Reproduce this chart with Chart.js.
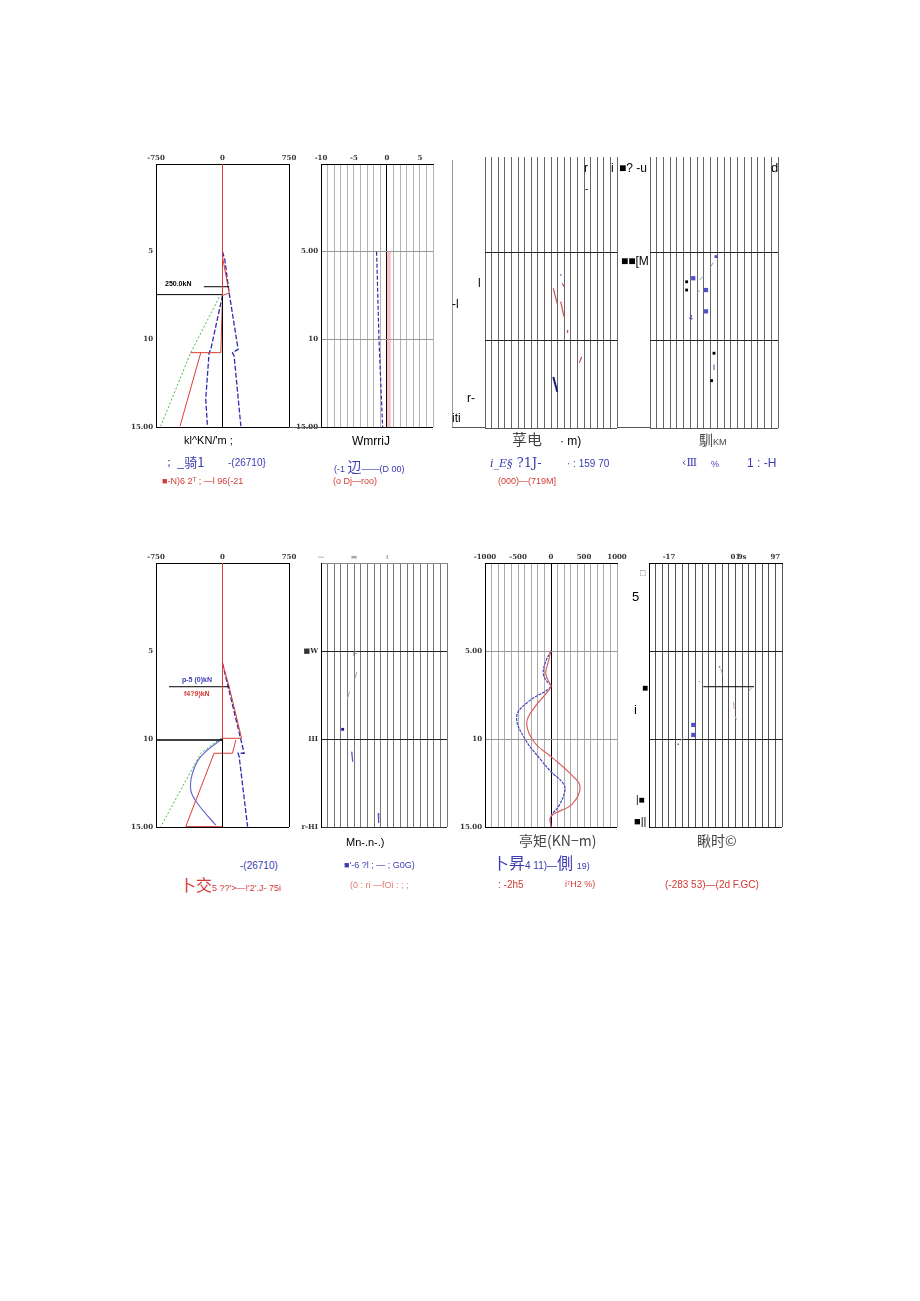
<!DOCTYPE html>
<html>
<head>
<meta charset="utf-8">
<script src="https://cdn.jsdelivr.net/npm/chart.js@4.4.0/dist/chart.umd.min.js"></script>
<style>
body { margin: 0; background: #fff; width: 920px; height: 1301px; position: relative; overflow: hidden; font-family: Arial, "Liberation Sans", sans-serif; }
canvas { position: absolute; }
.t { position: absolute; white-space: nowrap; line-height: 1; }
.cjk { font-family: "Noto Sans CJK SC", sans-serif; }
.blue { color: #3b3bb3; }
.red { color: #d23a34; }
.ln { position: absolute; background: #555; }
</style>
</head>
<body>

<canvas id="p1"></canvas>
<canvas id="p2"></canvas>
<canvas id="p3"></canvas>
<canvas id="p4"></canvas>
<canvas id="p5"></canvas>
<canvas id="p6"></canvas>
<canvas id="p7"></canvas>
<canvas id="p8"></canvas>

<!-- frame bits between panels -->
<div class="ln" style="left:289px;top:427px;width:32px;height:1px;"></div>
<div class="ln" style="left:452px;top:160px;width:1px;height:268px;background:#999;"></div>
<div class="ln" style="left:452px;top:427px;width:33px;height:1px;"></div>
<div class="ln" style="left:617px;top:427px;width:33px;height:1px;"></div>

<!-- labels inside panels -->
<div class="t" style="left:165px;top:280px;font-size:7px;font-weight:bold;">250.0kN</div>
<div class="t blue" style="left:182px;top:676px;font-size:7px;font-weight:bold;">p-5 (0)kN</div>
<div class="t red" style="left:184px;top:690px;font-size:7px;font-weight:bold;">f4?9)kN</div>

<div class="t" style="left:584px;top:162px;font-size:12px;">r</div>
<div class="t" style="left:585px;top:184px;font-size:10px;">-</div>
<div class="t" style="left:611px;top:162px;font-size:12px;">i</div>
<div class="t" style="left:619px;top:162px;font-size:12px;">■? -u</div>
<div class="t" style="left:771px;top:161px;font-size:13px;">d</div>
<div class="t" style="left:621px;top:255px;font-size:12px;">■■[M</div>
<div class="t" style="left:478px;top:277px;font-size:12px;">l</div>
<div class="t" style="left:452px;top:298px;font-size:12px;">-l</div>
<div class="t" style="left:467px;top:392px;font-size:12px;">r-</div>
<div class="t" style="left:452px;top:412px;font-size:12px;">iti</div>
<div class="t blue" style="left:689px;top:314px;font-size:7px;">4</div>

<div class="t" style="left:640px;top:569px;font-size:9px;color:#777;">□</div>
<div class="t" style="left:632px;top:590px;font-size:13px;">5</div>
<div class="t" style="left:642px;top:683px;font-size:10px;">■</div>
<div class="t" style="left:634px;top:703px;font-size:13px;">i</div>
<div class="t" style="left:636px;top:795px;font-size:10px;">|■</div>
<div class="t" style="left:634px;top:816px;font-size:11px;">■||</div>
<div class="t" style="left:353px;top:650px;font-size:7px;color:#666;">F</div>

<!-- captions, top row -->
<div class="t" style="left:184px;top:435px;font-size:11px;">kl^KN/'m ;</div>
<div class="t" style="left:352px;top:435px;font-size:12px;">WmrriJ</div>
<div class="t cjk" style="left:512px;top:431px;font-size:15px;color:#444;">莩电</div>
<div class="t" style="left:560px;top:435px;font-size:12px;">· m)</div>
<div class="t cjk" style="left:699px;top:432px;font-size:14px;color:#444;">馴<span style="font-family:Arial;font-size:9px;">KM</span></div>

<div class="t blue" style="left:163px;top:456px;font-size:12px;">；</div>
<div class="t blue cjk" style="left:177px;top:455px;font-size:13px;">_骑1</div>
<div class="t blue" style="left:228px;top:458px;font-size:10px;">-(26710}</div>
<div class="t blue" style="left:334px;top:459px;font-size:9px;">(-1 <span class="cjk" style="font-size:14px;">辺</span>——(D 00)</div>
<div class="t blue" style="left:490px;top:456px;font-size:13px;font-family:'DejaVu Serif',serif;"><i style="font-size:11px;">i_E§</i> ?1J-</div>
<div class="t blue" style="left:567px;top:459px;font-size:10px;">· : 159 70</div>
<div class="t blue" style="left:682px;top:457px;font-size:11px;font-family:'DejaVu Serif',serif;">‹Ⅲ</div>
<div class="t blue" style="left:711px;top:460px;font-size:9px;">%</div>
<div class="t blue" style="left:747px;top:457px;font-size:12px;">1 : -H</div>

<div class="t red" style="left:162px;top:477px;font-size:9px;">■-N)6 2ᵀ ; —l 96(-21</div>
<div class="t red" style="left:333px;top:477px;font-size:9px;">(o Dj—roo)</div>
<div class="t red" style="left:498px;top:477px;font-size:9px;">(000)—(719M]</div>

<!-- captions, bottom row -->
<div class="t" style="left:346px;top:837px;font-size:11px;">Mn-.n-.)</div>
<div class="t cjk" style="left:519px;top:833px;font-size:14px;color:#444;">亭矩(KN−m)</div>
<div class="t cjk" style="left:697px;top:833px;font-size:14px;color:#444;">瞅时©</div>

<div class="t blue" style="left:240px;top:861px;font-size:10px;">-(26710)</div>
<div class="t blue" style="left:344px;top:861px;font-size:9px;">■'-6 ?l ; — ; G0G)</div>
<div class="t blue cjk" style="left:493px;top:854px;font-size:16px;">卜昇<span style="font-family:Arial;font-size:10px;">4 11)—</span>側 <span style="font-family:Arial;font-size:9px;">19)</span></div>

<div class="t red cjk" style="left:180px;top:876px;font-size:16px;">卜交<span style="font-family:Arial;font-size:9px;">5 ??'&gt;—!'2'.J- 75i</span></div>
<div class="t red" style="left:350px;top:881px;font-size:9px;color:#e07a74;">(0 : ri —fOi :  ;  ;</div>
<div class="t red" style="left:498px;top:880px;font-size:10px;">: -2h5</div>
<div class="t red" style="left:565px;top:880px;font-size:9px;">i⁷H2 %)</div>
<div class="t red" style="left:665px;top:880px;font-size:10px;">(-283 53)—(2d F.GC)</div>

<script>
// depth axis (m), shared by all panels
const depthTicks = [5, 10, 15];

// --- panel 1 : earth pressure, stage 1 (kN/m) ---
const p1RedTop = [[0, 0], [0, 7.5]];
const p1BlackBottom = [[0, 7.5], [0, 15]];
const p1Level = [[-750, 7.45], [0, 7.45]];
const p1LabelLine = [[-211, 7.0], [75, 7.0]];
const p1RedA = [[0, 5.3], [75, 7.35], [0, 7.5], [-19, 10.76], [-358, 10.76]];
const p1RedB = [[-245, 10.76], [-479, 14.95]];
const p1Green = [[-38, 7.6], [-358, 10.76], [-697, 14.95]];
const p1BlueL = [[0, 7.5], [-132, 10.57], [-151, 10.76], [-189, 13.4], [-170, 14.95]];
const p1BlueR = [[0, 5.0], [26, 5.45], [75, 7.35], [176, 10.57], [113, 10.76], [131, 10.95], [207, 14.95]];

// --- panel 2 : displacement (mm) ---
const p2Blue = [[-1.56, 5], [-1.2, 10], [-0.65, 15]];
const p2Band = [[0.3, 5], [0.3, 15]];

// --- panel 3 : moment, stage 1 (scattered fragments) ---
const p3RedMarks = [
    [[-1.65, 7.06], [-1.05, 7.95]],
    [[-0.53, 7.82], [-0.03, 8.67]],
    [[-0.29, 6.78], [-0.03, 6.97]],
    [[0.53, 9.43], [0.5, 9.6]],
    [[2.3, 11.3], [2.65, 10.95]]
];
const p3BlueMark = [[-1.65, 12.1], [-1.05, 12.94]];
const p3Dots = [[-0.53, 6.3]];

// --- panel 4 : shear, stage 1 ---
const p4BlueSq = [[-5.58, 6.49], [-3.69, 7.16], [-3.69, 8.37]];
const p4BlueSmall = [[-2.21, 5.26]];
const p4BlackSq = [[-6.56, 6.69], [-6.56, 7.16], [-2.5, 10.75], [-2.85, 12.31]];
const p4Marks = [
    [[-3.1, 5.9], [-2.6, 5.6]],
    [[-4.6, 6.6], [-4.2, 6.4]],
    [[-5.0, 7.3], [-4.6, 7.2]],
    [[-2.5, 11.4], [-2.5, 11.7]]
];

// --- panel 5 : earth pressure, stage 2 (kN/m) ---
const p5RedTop = [[0, 0], [0, 10]];
const p5BlackBottom = [[0, 10], [0, 15]];
const p5Level = [[-750, 10.06], [0, 10.06]];
const p5LabelLine = [[-603, 7.03], [75, 7.03]];
const p5RedA = [[0, 5.7], [75, 7.03], [215, 9.96], [0, 9.96]];
const p5RedB = [[150, 10.06], [113, 10.81], [-95, 10.81], [-415, 14.98], [0, 14.98]];
const p5BlueR = [[0, 5.7], [244, 10.81], [176, 10.81], [188, 11.0], [283, 14.98]];
const p5BlueCurve = [[0, 9.96], [-245, 11.0], [-339, 11.95], [-358, 12.9], [-283, 13.65], [-76, 14.9]];
const p5Green = [[-19, 9.96], [-245, 10.81], [-697, 14.98]];

// --- panel 6 : displacement, stage 2 ---
const p6BlueDot = [[-6.73, 9.45]];
const p6BlueMarks = [
    [[-5.37, 10.72], [-5.22, 11.29]],
    [[-1.36, 14.2], [-1.3, 14.77]]
];
const p6GreyMarks = [
    [[-4.9, 6.6], [-4.6, 6.2]],
    [[-6.0, 7.7], [-5.7, 7.3]]
];

// --- panel 7 : moment, stage 2 (kN·m) ---
const p7Blue = [[0, 5], [-80, 5.6], [-117, 6.27], [-60, 6.75], [0, 7.03], [-350, 7.9], [-520, 8.73],
    [-394, 10], [-150, 11.2], [0, 11.86], [180, 12.5], [212, 12.9], [120, 13.8], [0, 14.4], [0, 15]];
const p7Red = [[0, 5], [-40, 5.6], [-80, 6.25], [-40, 6.7], [0, 7.03], [-250, 8.2], [-368, 9.1],
    [-250, 10.2], [0, 11.0], [300, 12.0], [440, 12.7], [320, 13.7], [0, 14.4], [0, 15]];

// --- panel 8 : shear, stage 2 ---
const p8BlueSq = [[-5.34, 9.2], [-5.34, 9.77]];
const p8Strut = [[-3.83, 7.03], [3.79, 7.03]];
const p8Marks = [
    [[-4.5, 6.7], [-4.3, 6.8]],
    [[-1.2, 6.0], [-1.0, 6.3]],
    [[3.0, 7.3], [3.4, 7.1]],
    [[0.7, 7.9], [0.8, 8.3]],
    [[0.9, 8.7], [1.2, 8.9]],
    [[-7.3, 10.1], [-6.8, 9.9]]
];
const p8Dots = [[-1.4, 5.9], [-7.6, 10.3]];

// --- tick labels ---
const p1XLabels = { '-750': '-750', '0': '0', '750': '750' };
const p2XLabels = { '-10': '-10', '-5': '-5', '0': '0', '5': '5' };
const p6XLabels = { '-10': '—', '-5': '▬', '0': 'ı' };
const p7XLabels = { '-1000': '-1000', '-500': '-500', '0': '0', '500': '500', '1000': '1000' };
const p8XLabels = { '-9': '-17', '1': '01', '2': '9s', '7': '97' };
const depthLabels = { '5': '5', '10': '10', '15': '15.00' };
const depthLabels2 = { '5': '5.00', '10': '10', '15': '15.00' };
const p6YLabels = { '5': '■W', '10': 'III', '15': 'r-HI' };

const RED = '#dc3b35';
const BLUE = '#2c2cb0';
const GREEN = '#3dbb3d';

function pts(arr) {
    return arr.map(p => ({ x: p[0], y: p[1] }));
}

function line(arr, color, extra) {
    return Object.assign({
        data: pts(arr), showLine: true, borderColor: color, backgroundColor: color,
        borderWidth: 1, pointRadius: 0, fill: false, tension: 0
    }, extra || {});
}

function marks(arr, color, size) {
    return {
        data: pts(arr), showLine: false, pointStyle: 'rect', pointRadius: size,
        backgroundColor: color, borderColor: color, borderWidth: 0
    };
}

const tickFont = { family: 'DejaVu Serif', size: 7, weight: 'bold' };

function makePanel(id, box, xo, yo, datasets) {
    const padL = 44, padT = 16, padR = 12, padB = 8;
    const cv = document.getElementById(id);
    cv.width = box.w + padL + padR;
    cv.height = box.h + padT + padB;
    cv.style.left = (box.x - padL) + 'px';
    cv.style.top = (box.y - padT) + 'px';
    return new Chart(cv, {
        type: 'scatter',
        data: { datasets: datasets },
        options: {
            responsive: false,
            animation: false,
            devicePixelRatio: 1,
            layout: { padding: { left: 0, top: 0, right: padR, bottom: padB } },
            plugins: { legend: { display: false }, tooltip: { enabled: false } },
            scales: {
                x: {
                    type: 'linear', position: 'top', min: xo.min, max: xo.max,
                    afterFit: s => { s.height = padT; },
                    ticks: {
                        stepSize: xo.step, maxTicksLimit: 100, autoSkip: false, maxRotation: 0,
                        padding: 2, font: tickFont, color: xo.labelColor || '#333',
                        callback: v => (xo.labels && xo.labels[String(v)]) || ''
                    },
                    grid: { drawTicks: false, lineWidth: 1, color: c => xo.grid(c.tick.value) },
                    border: { display: xo.border !== false, color: xo.borderColor || '#000', width: 1 }
                },
                y: {
                    type: 'linear', reverse: true, min: yo.min, max: 15,
                    afterFit: s => { s.width = padL; },
                    afterBuildTicks: s => { s.ticks = depthTicks.map(v => ({ value: v })); },
                    ticks: {
                        padding: 3, font: tickFont, color: '#333', autoSkip: false,
                        callback: v => (yo.labels && yo.labels[String(v)]) || ''
                    },
                    grid: { drawTicks: false, lineWidth: 1, color: c => yo.grid(c.tick.value) },
                    border: { display: yo.border !== false, color: '#000', width: 1 }
                }
            }
        }
    });
}

const none = 'rgba(0,0,0,0)';

// panel 1
makePanel('p1', { x: 156, y: 164, w: 133, h: 263 },
    { min: -750, max: 750, step: 750, labels: p1XLabels, grid: v => (v === 0 ? none : '#000') },
    { min: 0, labels: depthLabels, grid: v => (v === 15 ? '#000' : none) },
    [
        line(p1RedTop, RED),
        line(p1BlackBottom, '#000'),
        line(p1Level, '#000'),
        line(p1LabelLine, '#000'),
        line(p1RedA, RED),
        line(p1RedB, RED),
        line(p1Green, GREEN, { borderDash: [2, 2] }),
        line(p1BlueL, BLUE, { borderDash: [5, 2], borderWidth: 1.3 }),
        line(p1BlueR, BLUE, { borderDash: [5, 2], borderWidth: 1.3 })
    ]);

// panel 2
makePanel('p2', { x: 321, y: 164, w: 112, h: 263 },
    { min: -10, max: 7, step: 1, labels: p2XLabels, grid: v => (v === 0 ? '#000' : '#b4b4b4') },
    { min: 0, labels: depthLabels2, grid: v => (v === 15 ? '#000' : '#999') },
    [
        line(p2Band, 'rgba(240,120,120,0.45)', { borderWidth: 4 }),
        line(p2Blue, BLUE, { borderDash: [4, 2], borderWidth: 1.2 })
    ]);

// panel 3
const p3Sets = p3RedMarks.map(s => line(s, '#c85050', { borderWidth: 1.2 }));
p3Sets.push(line(p3BlueMark, '#1a1a80', { borderWidth: 2 }));
p3Sets.push(marks(p3Dots, '#6060c0', 1));
makePanel('p3', { x: 485, y: 157, w: 132, h: 271 },
    { min: -12, max: 8, step: 1, border: false, grid: () => '#666' },
    { min: -0.4, border: false, grid: v => (v === 15 ? '#555' : '#222') },
    p3Sets);

// panel 4
const p4Sets = p4Marks.map(s => line(s, '#9a9ac8'));
p4Sets.push(marks(p4BlueSq, '#4f4fd0', 3));
p4Sets.push(marks(p4BlueSmall, '#4f4fd0', 2));
p4Sets.push(marks(p4BlackSq, '#000', 2));
makePanel('p4', { x: 650, y: 157, w: 128, h: 271 },
    { min: -12, max: 7, step: 1, border: false, grid: () => '#666' },
    { min: -0.4, border: false, grid: v => (v === 15 ? '#555' : '#222') },
    p4Sets);

// panel 5
makePanel('p5', { x: 156, y: 563, w: 133, h: 264 },
    { min: -750, max: 750, step: 750, labels: p1XLabels, grid: v => (v === 0 ? none : '#000') },
    { min: 0, labels: depthLabels, grid: v => (v === 15 ? '#000' : none) },
    [
        line(p5RedTop, RED),
        line(p5BlackBottom, '#000'),
        line(p5Level, '#000', { borderWidth: 1.5 }),
        line(p5LabelLine, '#000'),
        line(p5RedA, RED),
        line(p5RedB, RED),
        line(p5Green, GREEN, { borderDash: [2, 2] }),
        line(p5BlueR, BLUE, { borderDash: [5, 2], borderWidth: 1.3 }),
        line(p5BlueCurve, '#6a6ad0', { tension: 0.4, borderWidth: 1.2 })
    ]);

// panel 6
const p6Sets = p6BlueMarks.map(s => line(s, '#5050c0', { borderWidth: 1.2 }));
p6GreyMarks.forEach(s => p6Sets.push(line(s, '#aaa')));
p6Sets.push(marks(p6BlueDot, '#1a1a90', 2));
makePanel('p6', { x: 321, y: 563, w: 126, h: 264 },
    { min: -10, max: 9, step: 1, labels: p6XLabels, labelColor: '#aaa', borderColor: '#888', grid: () => '#777' },
    { min: 0, labels: p6YLabels, grid: v => (v === 15 ? '#333' : '#222') },
    p6Sets);

// panel 7
makePanel('p7', { x: 485, y: 563, w: 132, h: 264 },
    { min: -1000, max: 1000, step: 100, labels: p7XLabels, grid: v => (v === 0 ? '#000' : '#aaa') },
    { min: 0, labels: depthLabels2, grid: v => (v === 15 ? '#000' : '#999') },
    [
        line(p7Red, '#e06060', { tension: 0.4, borderWidth: 1.2 }),
        line(p7Blue, '#4848c8', { tension: 0.4, borderWidth: 1.2, borderDash: [3, 1] })
    ]);

// panel 8
const p8Sets = p8Marks.map(s => line(s, '#c8a0a0'));
p8Sets.push(line(p8Strut, '#000'));
p8Sets.push(marks(p8BlueSq, '#4f4fd0', 3));
p8Sets.push(marks(p8Dots, '#6060c0', 1));
makePanel('p8', { x: 649, y: 563, w: 133, h: 264 },
    { min: -12, max: 8, step: 1, labels: p8XLabels, grid: () => '#555' },
    { min: 0, grid: v => '#222' },
    p8Sets);
</script>
</body>
</html>
